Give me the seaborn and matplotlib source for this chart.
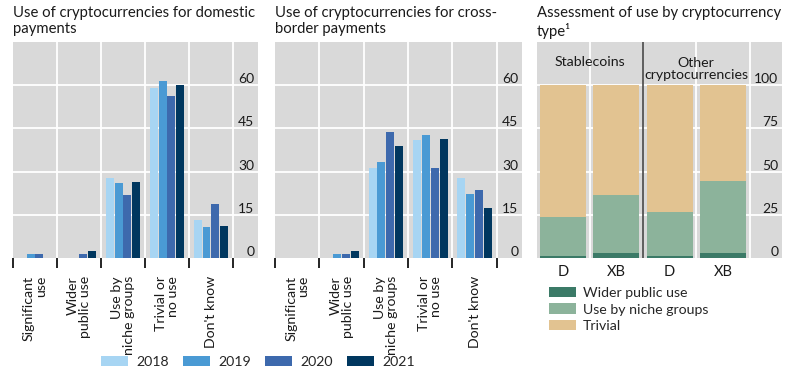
import matplotlib
matplotlib.use("Agg")
import matplotlib.pyplot as plt
import matplotlib.transforms as mtransforms
from matplotlib.patches import Patch
import numpy as np
import pandas as pd
import seaborn as sns

sns.set_theme(style="white")
plt.rcParams['font.family'] = ['Lato', 'DejaVu Sans']

# ---------------- data ----------------
categories = ["Significant\nuse", "Wider\npublic use", "Use by\nniche groups", "Trivial or\nno use", "Don't know"]
years = ["2018", "2019", "2020", "2021"]
domestic = {
    "2018": [0.0, 0.0, 27.7, 59.0, 13.1],
    "2019": [1.3, 0.0, 26.0, 61.4, 10.7],
    "2020": [1.3, 1.3, 21.8, 56.2, 18.7],
    "2021": [0.0, 2.4, 26.3, 60.0, 11.0],
}
crossborder = {
    "2018": [0.0, 0.0, 31.2, 40.9, 27.7],
    "2019": [0.0, 1.3, 33.3, 42.6, 22.1],
    "2020": [0.0, 1.3, 43.7, 31.2, 23.5],
    "2021": [0.0, 2.4, 38.8, 41.3, 17.3],
}
y_ticks_12 = [0, 15, 30, 45, 60]

type_cats = ["D", "XB", "D ", "XB "]
type_groups = ["Stablecoins", "Other\ncryptocurrencies"]
wider = [1.2, 2.9, 1.2, 2.9]
niche = [22.3, 33.4, 25.2, 41.5]
trivial = [76.5, 63.7, 73.6, 55.6]
y_ticks_3 = [0, 25, 50, 75, 100]

year_colors = ["#a7d5f3", "#4a9ad4", "#3d69ad", "#00375f"]
stack_colors = {"Wider public use": "#3b7a67", "Use by niche groups": "#8cb39b", "Trivial": "#e2c391"}
bg = "#d9d9d9"
txt = "#1a1a1a"

fig = plt.figure(figsize=(7.93, 3.76), dpi=100)
H = 376.0
W = 793.0
def pos(l, r, t=42, b=258):
    return [l / W, 1 - b / H, (r - l) / W, (b - t) / H]

ax1 = fig.add_axes(pos(13, 258))
ax2 = fig.add_axes(pos(275, 522))
ax3 = fig.add_axes(pos(537, 782))

def long_df(d):
    rows = []
    for y in years:
        for c, v in zip(categories, d[y]):
            rows.append({"cat": c, "year": y, "val": v})
    return pd.DataFrame(rows)

def right_labels(ax, ticks):
    tr = mtransforms.blended_transform_factory(ax.transAxes, ax.transData)
    for t in ticks:
        ax.text(0.985, t, str(t), transform=tr, ha="right", va="bottom",
                fontsize=10, color=txt)

def add_title(ax, title):
    ax.text(0, 1.0 + 36 / 216, title, transform=ax.transAxes, ha="left", va="top",
            fontsize=10.7, color=txt, linespacing=1.22)

def style_bar_ax(ax, title):
    ax.set_facecolor(bg)
    for s in ax.spines.values():
        s.set_visible(False)
    ax.set_xlim(-0.5, 5.07)
    ax.set_ylim(0, 75)
    ax.set_yticks(y_ticks_12)
    ax.set_yticklabels([])
    ax.tick_params(axis="y", length=0)
    ax.grid(False)
    for t in y_ticks_12[1:]:
        ax.axhline(t, color="white", lw=1.3, zorder=0.5)
    for xb in np.arange(0.5, 5, 1.0):
        ax.axvline(xb, color="white", lw=1.3, zorder=0.5)
    ax.set_xticks(np.arange(-0.5, 5, 1.0))
    ax.set_xticklabels([])
    ax.tick_params(axis="x", which="major", length=7, width=1.2, color="black", direction="out", bottom=True)
    ax.set_xticks(np.arange(0, 5), minor=True)
    ax.set_xticklabels(categories, minor=True, rotation=90, fontsize=10.2, va="top", ha="center",
                       color=txt)
    ax.tick_params(axis="x", which="minor", length=0, pad=13)
    for lbl in ax.get_xticklabels(minor=True):
        lbl.set_multialignment("right")
        lbl.set_linespacing(1.0)
    ax.set_xlabel("")
    ax.set_ylabel("")
    right_labels(ax, y_ticks_12)
    add_title(ax, title)

for ax, d, title in [(ax1, domestic, "Use of cryptocurrencies for domestic\npayments"),
                     (ax2, crossborder, "Use of cryptocurrencies for cross-\nborder payments")]:
    df = long_df(d)
    sns.barplot(data=df, x="cat", y="val", hue="year", order=categories, hue_order=years,
                palette=year_colors, ax=ax, gap=0.1, width=0.8, legend=False,
                errorbar=None, saturation=1, zorder=2, linewidth=0, edgecolor="none")
    style_bar_ax(ax, title)

# ---------------- panel 3 ----------------
ax3.set_facecolor(bg)
for s in ax3.spines.values():
    s.set_visible(False)
w = np.array(wider)
n = np.array(niche)
t = np.array(trivial)
layers = [("Trivial", w + n + t), ("Use by niche groups", w + n), ("Wider public use", w)]
for name, vals in layers:
    df3 = pd.DataFrame({"cat": type_cats, "val": vals})
    sns.barplot(data=df3, x="cat", y="val", order=type_cats, color=stack_colors[name],
                ax=ax3, width=0.86, errorbar=None, saturation=1, zorder=2,
                linewidth=0, edgecolor="none")
ax3.set_xlim(-0.49, 4.11)
ax3.set_ylim(0, 125)
ax3.set_yticks(y_ticks_3)
ax3.set_yticklabels([])
ax3.tick_params(axis="y", length=0)
ax3.grid(False)
for tt in y_ticks_3[1:]:
    ax3.axhline(tt, color="white", lw=1.3, zorder=0.5)
for xb in [0.5, 2.5, 3.5]:
    ax3.axvline(xb, color="white", lw=1.3, zorder=0.5)
ax3.axvline(1.5, color="#555555", lw=1.3, zorder=3)
ax3.set_xticks(range(4))
ax3.set_xticklabels(["D", "XB", "D", "XB"], fontsize=10.5, color=txt)
ax3.tick_params(axis="x", length=0, pad=5)
ax3.set_xlabel("")
ax3.set_ylabel("")
right_labels(ax3, y_ticks_3)
ax3.text(0.5, 113.5, type_groups[0], ha="center", va="center", fontsize=10.2, color=txt)
ax3.text(2.5, 109.5, type_groups[1], ha="center", va="center", fontsize=10.2, color=txt,
         linespacing=1.0)
add_title(ax3, "Assessment of use by cryptocurrency\ntype\u00b9")

# legends
h12 = [Patch(facecolor=c, edgecolor="none") for c in year_colors]
fig.legend(h12, years, loc="center", bbox_to_anchor=(258 / W, 1 - 362 / H), ncol=4, frameon=False,
           fontsize=10.2, handlelength=1.9, handleheight=0.75, columnspacing=1.0, handletextpad=0.6)
labels3 = ["Wider public use", "Use by niche groups", "Trivial"]
h3 = [Patch(facecolor=stack_colors[k], edgecolor="none") for k in labels3]
fig.legend(h3, labels3, loc="upper left", bbox_to_anchor=(549 / W, 1 - 287 / H), ncol=1, frameon=False,
           fontsize=10.2, handlelength=1.9, handleheight=0.75, labelspacing=0.3, handletextpad=0.5,
           borderaxespad=0, borderpad=0)

fig.savefig("out.png", dpi=100)
